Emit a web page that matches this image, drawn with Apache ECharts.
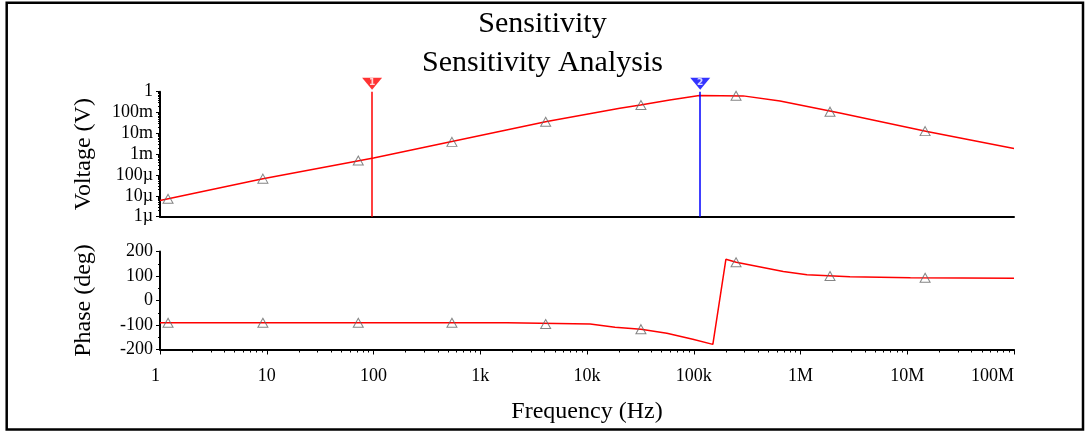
<!DOCTYPE html>
<html><head><meta charset="utf-8">
<script src="https://cdn.jsdelivr.net/npm/echarts@6/dist/echarts.min.js"></script>
<style>html,body{margin:0;padding:0;background:#fff}#c{width:1085px;height:432px}</style>
</head><body><div id="c"></div>
<script>
const titleLines = ['Sensitivity', 'Sensitivity Analysis'];
const freqLabels = ['1', '10', '100', '1k', '10k', '100k', '1M', '10M', '100M'];
const voltLabels = ['1µ', '10µ', '100µ', '1m', '10m', '100m', '1'];

const voltFreq = [1, 9.2, 100, 4200, 20300, 31700, 59600, 113000, 290000, 643000, 2400000, 15300000, 100000000];
const voltValues = [6.0e-6, 6.7e-5, 6.6e-4, 0.037, 0.16, 0.23, 0.40, 0.65, 0.63, 0.36, 0.093, 0.0123, 0.0019];

const phaseFreq = [1, 1780, 10700, 18300, 32000, 56000, 98000, 151000, 200000, 250000, 690000, 1150000, 2900000, 10700000, 100000000];
const phaseValues = [-91, -91, -96, -109, -117, -134, -158, -179, 168, 156, 118, 105, 97, 93, 91];

const markerFreq = [1.19, 9.2, 72, 543, 4100, 32000, 249000, 1890000, 14700000];
const markerVolt = [7.2e-6, 6.7e-5, 5.0e-4, 3.9e-3, 0.036, 0.23, 0.64, 0.11, 0.0128];
const markerPhase = [-91, -91, -91, -91, -96, -117, 156, 100, 93];

const cursorFreq = [97, 115000];
const cursorNames = ['1', '2'];
const cursorColors = ['#ff0000', '#0000ff'];

const serif = 'Liberation Serif';
const xMinorVals = [];
for (let e = 0; e < 8; e++) for (let m = 2; m <= 9; m++) xMinorVals.push(e + Math.log10(m));
const yMinorVals = [];
for (let e = -6; e < 0; e++) for (let m = 2; m <= 9; m++) yMinorVals.push(e + Math.log10(m));

const zip = (a, b) => a.map((v, i) => [v, b[i]]);
const lbl = {fontFamily: serif, fontSize: 18, color: '#000'};
const axLine = {onZero: false, lineStyle: {color: '#000', width: 2}};
const noLine = {show: false, onZero: false};

const chart = echarts.init(document.getElementById('c'));
chart.setOption({
  animation: false,
  backgroundColor: '#fff',
  title: {
    text: titleLines.join('\n'), left: 'center', top: 0,
    textStyle: {fontFamily: serif, fontSize: 30, fontWeight: 'normal', color: '#000', lineHeight: 39}
  },
  graphic: [{
    type: 'rect', silent: true, z: 100,
    shape: {x: 6.7, y: 2.8, width: 1076.3, height: 426.7},
    style: {fill: 'none', stroke: '#000', lineWidth: 2.5}
  }],
  grid: [
    {left: 160, right: 71, top: 91.7, height: 125},
    {left: 160, right: 71, top: 251.5, height: 98}
  ],
  xAxis: [
    {gridIndex: 0, type: 'log', logBase: 10, min: 1, max: 1e8, position: 'bottom', axisLine: axLine,
     axisTick: {show: false}, axisLabel: {show: false}, splitLine: {show: false}},
    {gridIndex: 1, type: 'log', logBase: 10, min: 1, max: 1e8, position: 'bottom', axisLine: axLine,
     axisTick: {show: true, length: 5, lineStyle: {color: '#000'}},
     axisLabel: Object.assign({margin: 18, alignMaxLabel: 'right', alignMinLabel: 'right',
       formatter: v => freqLabels[Math.round(Math.log10(v))]}, lbl),
     splitLine: {show: false},
     name: 'Frequency (Hz)', nameLocation: 'middle', nameGap: 50,
     nameTextStyle: {fontFamily: serif, fontSize: 24, color: '#000'}},
    {gridIndex: 1, type: 'value', min: 0, max: 8, position: 'bottom', axisLine: noLine,
     axisTick: {show: true, length: 3, customValues: xMinorVals, lineStyle: {color: '#000'}},
     axisLabel: {show: false}, splitLine: {show: false}}
  ],
  yAxis: [
    {gridIndex: 0, type: 'log', logBase: 10, min: 1e-6, max: 1, position: 'left', axisLine: axLine,
     axisTick: {show: true, length: 4, lineStyle: {color: '#000'}},
     axisLabel: Object.assign({margin: 7, formatter: v => voltLabels[Math.round(Math.log10(v)) + 6]}, lbl),
     splitLine: {show: false},
     name: 'Voltage (V)', nameLocation: 'middle', nameGap: 64,
     nameTextStyle: {fontFamily: serif, fontSize: 24, color: '#000'}},
    {gridIndex: 0, type: 'value', min: -6, max: 0, position: 'left', axisLine: noLine,
     axisTick: {show: true, length: 2, customValues: yMinorVals, lineStyle: {color: '#000'}},
     axisLabel: {show: false}, splitLine: {show: false}},
    {gridIndex: 1, type: 'value', min: -200, max: 200, interval: 100, position: 'left', axisLine: axLine,
     axisTick: {show: true, length: 4, lineStyle: {color: '#000'}},
     minorTick: {show: true, splitNumber: 2, length: 2, lineStyle: {color: '#000'}},
     axisLabel: Object.assign({margin: 7}, lbl),
     splitLine: {show: false}, minorSplitLine: {show: false},
     name: 'Phase (deg)', nameLocation: 'middle', nameGap: 64,
     nameTextStyle: {fontFamily: serif, fontSize: 24, color: '#000'}}
  ],
  series: [
    {type: 'line', xAxisIndex: 0, yAxisIndex: 0, data: zip(voltFreq, voltValues), symbol: 'none',
     lineStyle: {color: '#ff0000', width: 1.5}, z: 3,
     markLine: {silent: true, symbol: 'none', label: {show: false},
       data: cursorFreq.map((f, i) => ({xAxis: f, lineStyle: {color: cursorColors[i], width: 1.5, type: 'solid'}}))}},
    {type: 'line', xAxisIndex: 1, yAxisIndex: 2, data: zip(phaseFreq, phaseValues), symbol: 'none',
     lineStyle: {color: '#ff0000', width: 1.5}, z: 3},
    {type: 'scatter', xAxisIndex: 0, yAxisIndex: 0, data: zip(markerFreq, markerVolt),
     symbol: 'triangle', symbolSize: [10, 9], z: 4,
     itemStyle: {color: 'rgba(0,0,0,0)', borderColor: '#666666', borderWidth: 1}},
    {type: 'scatter', xAxisIndex: 1, yAxisIndex: 2, data: zip(markerFreq, markerPhase),
     symbol: 'triangle', symbolSize: [10, 9], z: 4,
     itemStyle: {color: 'rgba(0,0,0,0)', borderColor: '#666666', borderWidth: 1}},
    {type: 'scatter', xAxisIndex: 0, yAxisIndex: 0, clip: false, z: 5,
     data: cursorFreq.map((f, i) => ({value: [f, 1], itemStyle: {color: cursorColors[i]},
       label: {show: true, formatter: cursorNames[i]}})),
     symbol: 'triangle', symbolRotate: 180, symbolSize: [20, 12], symbolOffset: [0, -8],
     label: {position: 'inside', color: '#fff', fontSize: 9, fontWeight: 'bold', fontFamily: 'DejaVu Sans', offset: [0, -1]}}
  ]
});
</script>
</body></html>
